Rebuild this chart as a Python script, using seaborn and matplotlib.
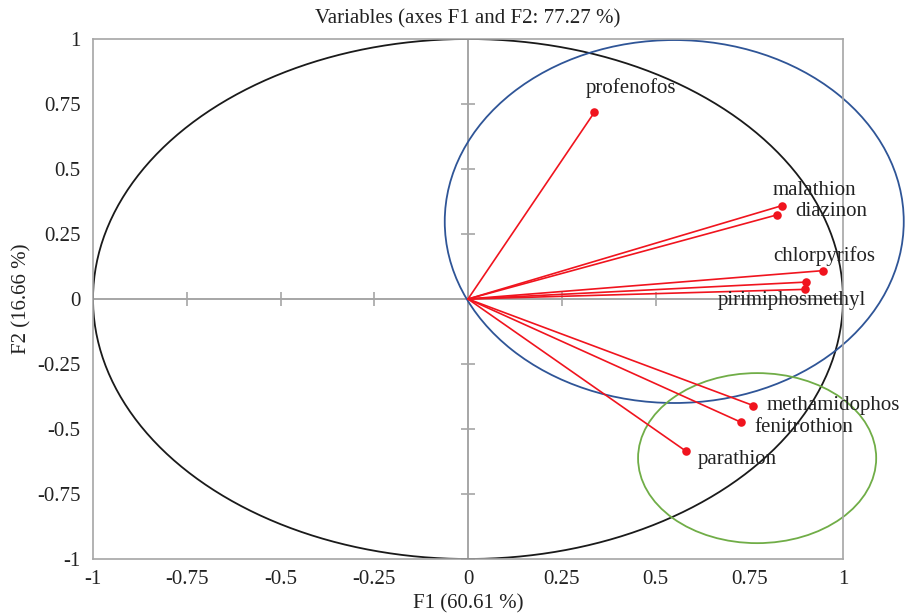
import numpy as np
import pandas as pd
import matplotlib
matplotlib.use("Agg")
import matplotlib.pyplot as plt
import seaborn as sns
from matplotlib.patches import Ellipse

# ---- data ----
variables = ["profenofos", "malathion", "diazinon", "chlorpyrifos", "",
             "pirimiphosmethyl", "methamidophos", "fenitrothion", "parathion"]
f1 = [0.337, 0.837, 0.825, 0.946, 0.901, 0.898, 0.761, 0.728, 0.581]
f2 = [0.718, 0.359, 0.324, 0.109, 0.065, 0.037, -0.410, -0.474, -0.585]
# label offsets in pixels (dx, dy)
label_dx = [-9, -9, 18, -50, 0, -87, 13, 13, 12]
label_dy = [24, 15, 3, 15, 0, -11, 0, -5, -8]
ticks = [-1, -0.75, -0.5, -0.25, 0, 0.25, 0.5, 0.75, 1]
tick_labels = ["-1", "-0.75", "-0.5", "-0.25", "0", "0.25", "0.5", "0.75", "1"]
# group ellipses: center x, center y, width, height
blue_ell = (0.55, 0.298, 1.224, 1.396)
green_ell = (0.771, -0.612, 0.635, 0.654)

df = pd.DataFrame({"variable": variables, "F1": f1, "F2": f2})

sns.set_theme(style="white")
plt.rcParams["font.family"] = ["Liberation Serif", "DejaVu Serif"]

fig = plt.figure(figsize=(9.06, 6.15), dpi=100)
ax = fig.add_axes([93 / 906, 1 - 559 / 615, 750 / 906, 520 / 615])

grey = "#A6A6A6"
txt = "#222222"
fs = 15
# zero lines
ax.axhline(0, color=grey, lw=1.4, zorder=1)
ax.axvline(0, color=grey, lw=1.4, zorder=1)
# ticks on zero lines
ax.plot(ticks, [0] * len(ticks), ls="none", marker="|", ms=10, mew=1.2, color=grey, zorder=1)
ax.plot([0] * len(ticks), ticks, ls="none", marker="_", ms=10, mew=1.2, color=grey, zorder=1)

# correlation circle
theta = np.linspace(0, 2 * np.pi, 400)
ax.plot(np.cos(theta), np.sin(theta), color="#1a1a1a", lw=1.3, zorder=2)

# group ellipses
ax.add_patch(Ellipse((blue_ell[0], blue_ell[1]), blue_ell[2], blue_ell[3],
                     fill=False, ec="#2F5597", lw=1.3, zorder=2, clip_on=False))
ax.add_patch(Ellipse((green_ell[0], green_ell[1]), green_ell[2], green_ell[3],
                     fill=False, ec="#70AD47", lw=1.3, zorder=2, clip_on=False))

red = "#F0141E"
for x, y in zip(df["F1"], df["F2"]):
    ax.plot([0, x], [0, y], color=red, lw=1.2, zorder=3)
sns.scatterplot(data=df, x="F1", y="F2", color=red, s=38, edgecolor=red,
                linewidth=0, ax=ax, zorder=4, legend=False)

for name, x, y, dx, dy in zip(variables, f1, f2, label_dx, label_dy):
    if name:
        ax.annotate(name, (x, y), xytext=(dx, dy), textcoords="offset pixels",
                    ha="left", va="center", fontsize=fs, color=txt, zorder=5,
                    annotation_clip=False)

ax.set_xlim(-1, 1)
ax.set_ylim(-1, 1)
ax.set_xticks(ticks)
ax.set_xticklabels(tick_labels)
ax.set_yticks(ticks)
ax.set_yticklabels(tick_labels)
ax.tick_params(axis="both", length=0, labelsize=fs, colors=txt)
ax.tick_params(axis="x", pad=8)
ax.tick_params(axis="y", pad=9)
for s in ax.spines.values():
    s.set_color(grey)
    s.set_linewidth(1.2)

ax.set_xlabel("F1 (60.61 %)", fontsize=fs, color=txt, labelpad=4)
ax.set_ylabel("F2 (16.66 %)", fontsize=fs, color=txt, labelpad=4)
ax.set_title("Variables (axes F1 and F2: 77.27 %)", fontsize=fs, color=txt, pad=11)

fig.savefig("out.png", dpi=100)
